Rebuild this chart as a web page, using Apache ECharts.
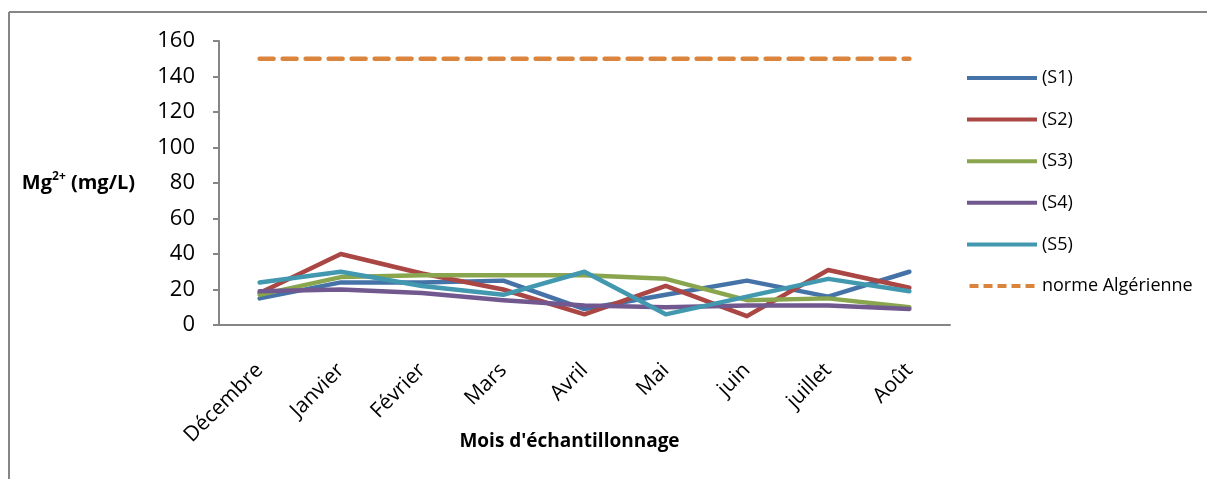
<!DOCTYPE html>
<html lang="fr">
<head>
    <meta charset="utf-8">
    <title>Mg2+ (mg/L)</title>
    <script src="https://cdn.jsdelivr.net/npm/echarts@6/dist/echarts.min.js"></script>
    <style>
        html, body, #main {
            width: 100%;
            height: 100%;
            margin: 0;
            padding: 0;
            overflow: hidden;
            background-color: #ffffff;
        }
    </style>
</head>
<body>
<div id="main"></div>
<script>
    // mois d'échantillonnage
    var mois = ['Décembre', 'Janvier', 'Février', 'Mars', 'Avril', 'Mai', 'juin', 'juillet', 'Août'];

    // Mg2+ (mg/L) par station
    var s1 = [15, 24, 24, 25, 9, 17, 25, 16, 30];
    var s2 = [18, 40, 29, 20, 6, 22, 5, 31, 21];
    var s3 = [17, 27, 28, 28, 28, 26, 14, 15, 10];
    var s4 = [19, 20, 18, 14, 11, 10, 11, 11, 9];
    var s5 = [24, 30, 22, 17, 30, 6, 16, 26, 19];
    var norme = [150, 150, 150, 150, 150, 150, 150, 150, 150];

    var yTicks = [0, 20, 40, 60, 80, 100, 120, 140, 160];

    var font = '"Open Sans", "Noto Sans", sans-serif';
    var gris = '#868686';

    // icône pointillée pour la norme dans la légende
    var iconTirets = 'path://M0,0h9v4h-9z M14,0h9v4h-9z M28,0h9v4h-9z M42,0h9v4h-9z M56,0h9v4h-9z';

    function ligne(nom, data, couleur) {
        return {
            name: nom,
            type: 'line',
            data: data,
            symbol: 'none',
            lineStyle: { color: couleur, width: 4.5, cap: 'round', join: 'round' },
            itemStyle: { color: couleur }
        };
    }

    var chart = echarts.init(document.getElementById('main'));
    chart.setOption({
        animation: false,
        textStyle: { fontFamily: font },
        graphic: [
            { type: 'line', shape: { x1: 9, y1: 12, x2: 1207, y2: 12 }, style: { stroke: gris, lineWidth: 2 } },
            { type: 'line', shape: { x1: 9, y1: 12, x2: 9, y2: 479 }, style: { stroke: gris, lineWidth: 2 } }
        ],
        grid: { left: 219, right: 257, top: 41, bottom: 154 },
        legend: {
            orient: 'vertical',
            left: 962,
            top: 64,
            itemWidth: 70,
            itemHeight: 4,
            itemGap: 23.6,
            textStyle: { fontSize: 18, color: '#000', fontFamily: font },
            data: [
                { name: '(S1)', icon: 'rect' },
                { name: '(S2)', icon: 'rect' },
                { name: '(S3)', icon: 'rect' },
                { name: '(S4)', icon: 'rect' },
                { name: '(S5)', icon: 'rect' },
                { name: 'norme Algérienne', icon: iconTirets }
            ]
        },
        xAxis: {
            type: 'category',
            data: mois,
            boundaryGap: true,
            name: "Mois d'échantillonnage",
            nameLocation: 'middle',
            nameGap: 107,
            nameMoveOverlap: false,
            nameTextStyle: { fontSize: 19, fontWeight: 'bold', color: '#000', padding: [0, 30, 0, 0] },
            axisLine: { lineStyle: { color: gris, width: 2 } },
            axisTick: { length: 6, lineStyle: { color: gris, width: 2 } },
            axisLabel: { rotate: 45, fontSize: 21, color: '#000', margin: 42 },
            splitLine: { show: false }
        },
        yAxis: {
            type: 'value',
            min: yTicks[0],
            max: yTicks[yTicks.length - 1],
            interval: 20,
            name: '{b|Mg}{sup|2+}{b| (mg/L)}',
            nameLocation: 'middle',
            nameRotate: 0,
            nameGap: 84,
            nameMoveOverlap: false,
            nameTextStyle: {
                align: 'right',
                rich: {
                    b: { fontSize: 20, fontWeight: 'bold', color: '#000', fontFamily: font, lineHeight: 24 },
                    sup: { fontSize: 12, fontWeight: 'bold', color: '#000', fontFamily: font, verticalAlign: 'top', lineHeight: 24, padding: [0, 0, 8, 0] }
                }
            },
            axisLine: { show: true, lineStyle: { color: gris, width: 2 } },
            axisTick: { show: true, length: 6, lineStyle: { color: gris, width: 2 } },
            axisLabel: { fontSize: 22, color: '#000', margin: 24 },
            splitLine: { show: false }
        },
        series: [
            ligne('(S1)', s1, '#4572A7'),
            ligne('(S2)', s2, '#AA4643'),
            ligne('(S3)', s3, '#89A54E'),
            ligne('(S4)', s4, '#71588F'),
            ligne('(S5)', s5, '#4198AF'),
            {
                name: 'norme Algérienne',
                type: 'line',
                data: norme,
                symbol: 'none',
                lineStyle: { color: '#DB843D', width: 4.5, type: [14, 9], cap: 'round' },
                itemStyle: { color: '#DB843D' }
            }
        ]
    });
</script>
</body>
</html>
